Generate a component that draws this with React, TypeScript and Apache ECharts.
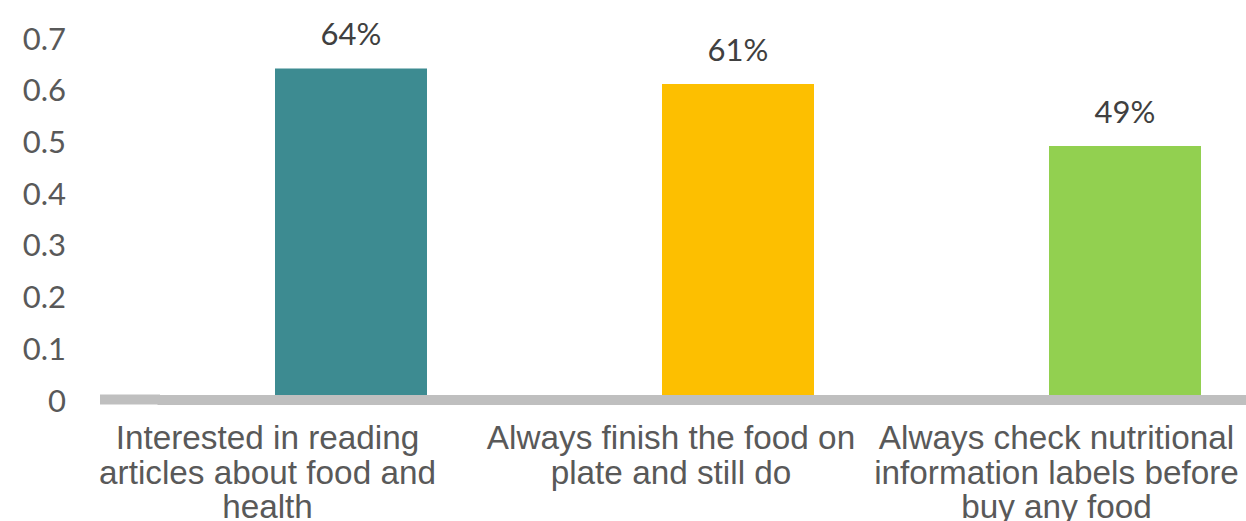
import React, { useEffect, useRef } from "react";
import * as echarts from "echarts";

const categories = [
  "Interested in reading\narticles about food and\nhealth",
  "Always finish the food on\nplate and still do",
  "Always check nutritional\ninformation labels before\nbuy any food",
];
const values = [0.64, 0.61, 0.49];
const barColors = ["#3d8b91", "#fdbf00", "#92d050"];
const yTicks = { min: 0, max: 0.7, interval: 0.1 };
// right padding per category label (shifts the label left of its bar, as in the reference)
const labelShift = [167, 134, 137];

export default function App() {
  const ref = useRef<HTMLDivElement>(null);
  useEffect(() => {
    if (!ref.current) return;
    const chart = echarts.init(ref.current, undefined, { renderer: "svg" });
    const rich: Record<string, any> = {};
    categories.forEach((_, i) => {
      rich["c" + i] = {
        fontFamily: "Liberation Sans, Arial, sans-serif",
        fontSize: 33.3,
        lineHeight: 34.5,
        color: "#595959",
        padding: [0, labelShift[i], 0, 0],
      };
    });
    chart.setOption({
      animation: false,
      backgroundColor: "#ffffff",
      grid: {
        left: 157.5,
        width: 1161,
        top: 37.5,
        height: 362,
        containLabel: false,
        outerBoundsMode: "none",
      },
      xAxis: {
        type: "category",
        data: categories,
        z: 5,
        axisLine: { show: true, lineStyle: { color: "#bfbfbf", width: 10, cap: "butt" } },
        axisTick: { show: false },
        axisLabel: {
          interval: 0,
          margin: 21,
          formatter: (v: string, i: number) => `{c${i}|${v}}`,
          rich,
        },
      },
      yAxis: {
        type: "value",
        min: yTicks.min,
        max: yTicks.max,
        interval: yTicks.interval,
        axisLine: { show: false },
        axisTick: { show: false },
        splitLine: { show: false },
        axisLabel: {
          margin: 91.5,
          fontFamily: "Lato, sans-serif",
          fontSize: 31,
          color: "#595959",
          formatter: (v: number) => (v === 0 ? "0" : String(Math.round(v * 10) / 10)),
        },
      },
      graphic: [
        {
          type: "rect",
          z: 10,
          shape: { x: 100, y: 394.5, width: 60, height: 10 },
          style: { fill: "#bfbfbf" },
        },
      ],
      series: [
        {
          type: "bar",
          barWidth: 152,
          data: values.map((v, i) => ({ value: v, itemStyle: { color: barColors[i] } })),
          label: {
            show: true,
            position: "top",
            distance: 20,
            fontFamily: "Lato, sans-serif",
            fontSize: 31,
            color: "#404040",
            formatter: (p: any) => Math.round(p.value * 100) + "%",
          },
        },
      ],
    });
    return () => chart.dispose();
  }, []);
  return (
    <div
      ref={ref}
      style={{ position: "absolute", left: 0, top: 0, width: 1246, height: 521 }}
    />
  );
}
